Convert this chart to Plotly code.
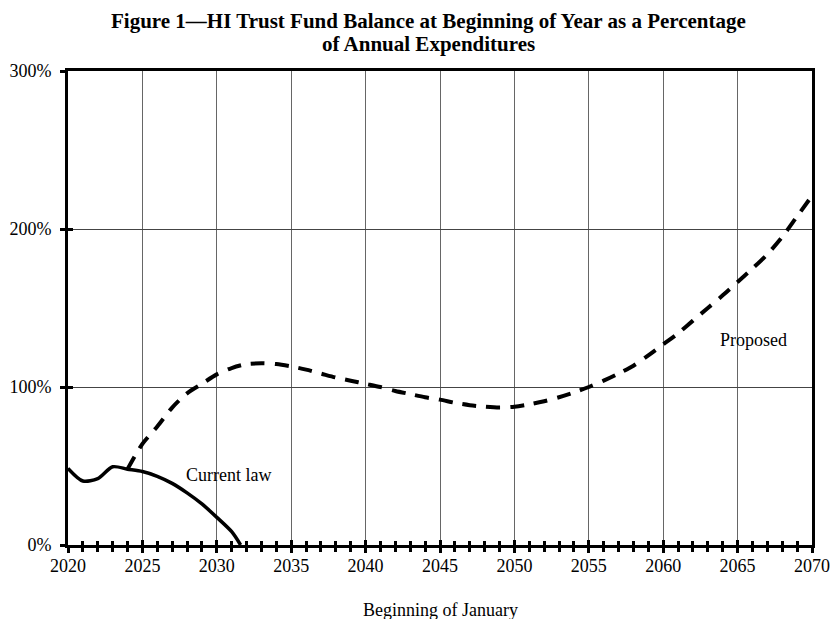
import plotly.graph_objects as go

# ---- data ----
years_current = [2020, 2021, 2022, 2023, 2024, 2025, 2026, 2027, 2028, 2029, 2030, 2031, 2031.6]
current_law = [48.5, 40.5, 42, 49.5, 48, 46.5, 43.5, 39, 33, 26, 17.5, 8.4, 0]

years_proposed = list(range(2024, 2071))
proposed = [48, 64, 75, 87, 96, 102, 108, 112, 114.5, 115,
            114.5, 113, 111, 108.5, 106, 104, 102, 100, 97.5, 95.5,
            93.5, 92, 90, 88.5, 87.5, 87, 87.5, 89, 91, 93.5,
            96.5, 100, 104, 108.5, 113.5, 120, 127, 134, 142, 150,
            158, 166.5, 175, 184, 195, 208, 221]

x_ticks = [2020, 2025, 2030, 2035, 2040, 2045, 2050, 2055, 2060, 2065, 2070]
y_ticks = [0, 100, 200, 300]
y_labels = ["0%", "100%", "200%", "300%"]

title_line1 = "Figure 1\u2014HI Trust Fund Balance at Beginning of Year as a Percentage"
title_line2 = "of Annual Expenditures"
x_title = "Beginning of January"

FONT = "Liberation Serif, Times New Roman, serif"

fig = go.Figure()
fig.add_trace(go.Scatter(x=years_current, y=current_law, mode="lines",
                         line=dict(color="black", width=3.5, shape="spline", smoothing=0.8),
                         xaxis="x", yaxis="y", showlegend=False, hoverinfo="skip"))
fig.add_trace(go.Scatter(x=years_proposed, y=proposed, mode="lines",
                         line=dict(color="black", width=4, dash="14px,10px", shape="spline", smoothing=0.8),
                         xaxis="x2", yaxis="y2", showlegend=False, hoverinfo="skip"))

common_x = dict(range=[2020, 2070], tickmode="array", tickvals=x_ticks, automargin=False)
fig.update_layout(
    width=831, height=619,
    margin=dict(l=68, r=19, t=71, b=74),
    paper_bgcolor="white", plot_bgcolor="white",
    font=dict(family=FONT, size=18, color="black"),
    xaxis=dict(**common_x, ticktext=[str(v) for v in x_ticks],
               showgrid=True, gridcolor="#666666", gridwidth=1,
               showline=True, linecolor="black", linewidth=3, mirror=True,
               ticks="outside", ticklen=5, tickwidth=2.5, tickcolor="black",
               minor=dict(dtick=1, ticks="outside", ticklen=4, tickwidth=2.5,
                          tickcolor="black", showgrid=False),
               zeroline=False, tickfont=dict(size=18), ticklabelstandoff=-3),
    xaxis2=dict(**common_x, overlaying="x", matches="x", anchor="y2", side="bottom",
                showgrid=False, showline=False, showticklabels=False,
                ticks="inside", ticklen=5, tickwidth=2.5, tickcolor="black",
                minor=dict(dtick=1, ticks="inside", ticklen=4, tickwidth=2.5,
                           tickcolor="black", showgrid=False),
                zeroline=False),
    yaxis=dict(range=[0, 300], tickmode="array", tickvals=y_ticks, ticktext=y_labels,
               automargin=False,
               showgrid=True, gridcolor="#444444", gridwidth=1,
               showline=True, linecolor="black", linewidth=3, mirror=True,
               ticks="outside", ticklen=5, tickwidth=2.5, tickcolor="black",
               zeroline=False, tickfont=dict(size=18), ticklabelstandoff=5),
    yaxis2=dict(range=[0, 300], overlaying="y", matches="y", anchor="x2", side="left",
                tickmode="array", tickvals=y_ticks, automargin=False,
                showgrid=False, showline=False, showticklabels=False,
                ticks="inside", ticklen=5, tickwidth=2.5, tickcolor="black",
                zeroline=False),
    annotations=[
        dict(text="<b>" + title_line1 + "</b>", xref="paper", yref="paper", x=0.4852, y=1,
             xanchor="center", yanchor="middle", yshift=50.5, showarrow=False,
             font=dict(size=21, family=FONT)),
        dict(text="<b>" + title_line2 + "</b>", xref="paper", yref="paper", x=0.4852, y=1,
             xanchor="center", yanchor="middle", yshift=27.5, showarrow=False,
             font=dict(size=21, family=FONT)),
        dict(text=x_title, xref="paper", yref="paper", x=0.5, y=0,
             xanchor="center", yanchor="middle", yshift=-65, showarrow=False,
             font=dict(size=18, family=FONT)),
        dict(text="Current law", x=2030.81, y=44.3, xref="x", yref="y",
             xanchor="center", yanchor="middle", showarrow=False,
             font=dict(size=18, family=FONT)),
        dict(text="Proposed", x=2066.06, y=129.7, xref="x", yref="y",
             xanchor="center", yanchor="middle", showarrow=False,
             font=dict(size=18, family=FONT)),
    ],
)

fig.write_html("out.html", config={"displayModeBar": False},
               post_script="document.body.style.margin='0';document.body.style.overflow='hidden';")
